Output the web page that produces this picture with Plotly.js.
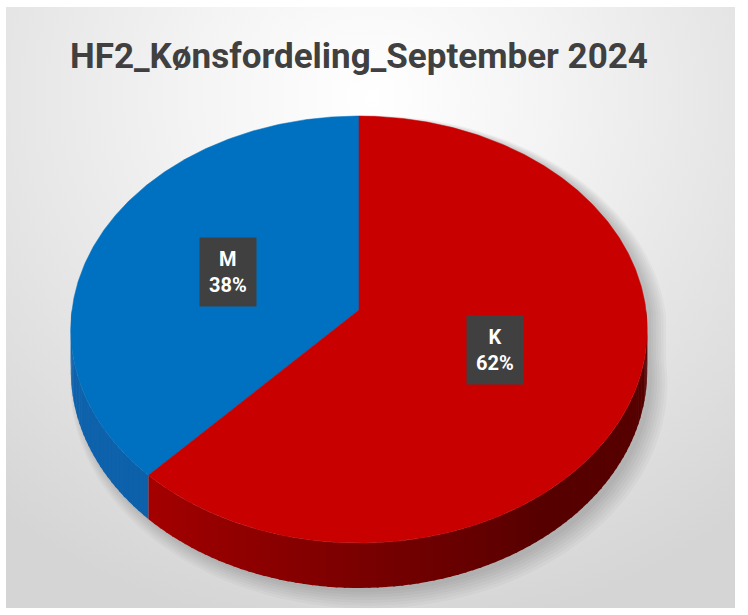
<!DOCTYPE html>
<html><head><meta charset="utf-8">
<script src="https://cdn.plot.ly/plotly-3.0.1.min.js"></script>
<style>
html,body{margin:0;padding:0;background:#fff;}
#wrap{position:relative;width:748px;height:615px;overflow:hidden;}
#bg{position:absolute;left:6px;top:7px;right:13px;bottom:7px;
  background:radial-gradient(ellipse 80% 90% at 50% 15%, #ffffff 0%, #f4f4f4 30%, #e2e2e2 70%, #d5d5d5 100%);}
#chart{position:absolute;left:0;top:0;width:748px;height:615px;}
</style></head><body>
<div id="wrap"><div id="bg"></div><div id="chart"></div></div>
<script>
// ---- data ----
const categories = ['M', 'K'];
const values = [38, 62];
const chartTitle = 'HF2_Kønsfordeling_September 2024';

// ---- styles ----
const topColors = ['#0070c0', '#c80000'];
const sideColorsStart = [[14, 98, 172], [185, 0, 0]];
const sideColorsEnd = [[10, 88, 160], [86, 0, 0]];

// ---- geometry (plot units == pixels) ----
const CX = 359, CY = 310, A = 287, B = 211.7, KP = 0.0913, D = 40.9;
function proj(deg, r) {
  if (r === undefined) r = 1;
  const t = deg * Math.PI / 180;
  const u = r * Math.cos(t), v = r * Math.sin(t);
  const s = 1 / (1 + KP * v);
  return [CX + A * u * s, CY - B * v * s];
}
function depthAt(deg) {
  const v = Math.sin(deg * Math.PI / 180);
  return D / (1 + KP * v);
}
function arc(a, b, step) {
  const n = Math.max(2, Math.ceil(Math.abs(b - a) / (step || 1)));
  const pts = [];
  for (let i = 0; i <= n; i++) pts.push(a + (b - a) * i / n);
  return pts;
}

const total = values.reduce((s, v) => s + v, 0);
const traces = [];
const annotations = [];

// soft shadow behind the pie
for (let i = 0; i < 7; i++) {
  const xs = [], ys = [];
  const r = 1.0 + 0.006 * i;
  arc(0, 180, 2).forEach(d => { const p = proj(d, r); xs.push(p[0] + 5 + i * 0.8); ys.push(p[1] + 2 + i * 0.6); });
  arc(180, 360, 2).forEach(d => { const p = proj(d, r); xs.push(p[0] + 5 + i * 0.8); ys.push(p[1] + depthAt(d) + 4 + i * 1.2); });
  traces.push({type: 'scatter', mode: 'lines', x: xs, y: ys, fill: 'toself',
    fillcolor: 'rgba(0,0,0,0.028)', line: {width: 0}, hoverinfo: 'skip'});
}

// slice angles (start at 12 o'clock, counter-clockwise)
let start = 90;
const slices = values.map((v, i) => {
  const sweep = 360 * v / total;
  const s = {cat: categories[i], a: start, b: start + sweep, pct: Math.round(100 * v / total), idx: i};
  start += sweep;
  return s;
});

// side walls (visible front half)
slices.forEach(s => {
  for (let k = -1; k <= 2; k++) {
    const lo = Math.max(s.a, 180 + 360 * k), hi = Math.min(s.b, 360 + 360 * k);
    if (hi <= lo) continue;
    const nStrips = Math.max(4, Math.ceil((hi - lo) / 1.5));
    for (let j = 0; j < nStrips; j++) {
      const a0 = lo + (hi - lo) * j / nStrips, a1 = lo + (hi - lo) * (j + 1) / nStrips;
      const f = ((a0 + a1) / 2 - (180 + 360 * k)) / 180;
      const c0 = sideColorsStart[s.idx], c1 = sideColorsEnd[s.idx];
      const g = Math.min(1, Math.max(0, (f - 0.15) / 0.55));
      const col = 'rgb(' + c0.map((c, m) => Math.round(c + (c1[m] - c) * g)).join(',') + ')';
      const xs = [], ys = [];
      const a1e = Math.min(a1 + 0.4, hi);
      arc(a0, a1e, 0.5).forEach(d => { const p = proj(d); xs.push(p[0]); ys.push(p[1]); });
      arc(a1e, a0, 0.5).forEach(d => { const p = proj(d); xs.push(p[0]); ys.push(p[1] + depthAt(d)); });
      traces.push({type: 'scatter', mode: 'lines', x: xs, y: ys, fill: 'toself',
        fillcolor: col, line: {width: 0}, hoverinfo: 'skip'});
    }
  }
});

// top faces
slices.forEach(s => {
  const xs = [CX], ys = [CY];
  arc(s.a, s.b, 0.5).forEach(d => { const p = proj(d); xs.push(p[0]); ys.push(p[1]); });
  xs.push(CX); ys.push(CY);
  traces.push({type: 'scatter', mode: 'lines', x: xs, y: ys, fill: 'toself',
    fillcolor: topColors[s.idx], line: {width: 0.5, color: topColors[s.idx]},
    name: s.cat, hoverinfo: 'name'});
  const mid = (s.a + s.b) / 2;
  const p = proj(mid, 0.5);
  annotations.push({x: p[0], y: p[1], xref: 'x', yref: 'y', showarrow: false,
    text: '<b>' + s.cat + '</b><br><b>' + s.pct + '%</b>',
    font: {family: 'Roboto', size: 20, color: '#ffffff'},
    bgcolor: '#404040', borderpad: 9, align: 'center'});
});

const layout = {
  width: 748, height: 615,
  margin: {l: 0, r: 0, t: 0, b: 0, pad: 0},
  paper_bgcolor: 'rgba(0,0,0,0)', plot_bgcolor: 'rgba(0,0,0,0)',
  showlegend: false,
  title: {text: chartTitle, x: 359 / 748, xanchor: 'center', xref: 'paper',
    y: 1 - 56 / 615, yanchor: 'middle', yref: 'paper',
    font: {family: 'Roboto', size: 35, color: '#404040', weight: 'bold'}},
  xaxis: {range: [0, 748], visible: false, fixedrange: true},
  yaxis: {range: [615, 0], visible: false, fixedrange: true},
  annotations: annotations
};
Plotly.newPlot('chart', traces, layout, {displayModeBar: false, staticPlot: true});
</script>
</body></html>
